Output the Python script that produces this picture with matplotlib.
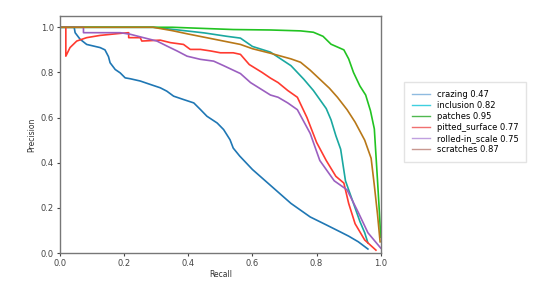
import matplotlib
matplotlib.use("Agg")
import matplotlib.pyplot as plt
from matplotlib.lines import Line2D

# PR curves per class
crazing_r = [0.0, 0.044, 0.047, 0.0625, 0.083, 0.104, 0.125, 0.14, 0.151, 0.156, 0.172, 0.1875, 0.203, 0.219,
             0.25, 0.281, 0.3125, 0.333, 0.354, 0.385, 0.417, 0.4375, 0.458, 0.49, 0.51, 0.53, 0.54, 0.56, 0.6,
             0.64, 0.68, 0.72, 0.78, 0.83, 0.875, 0.9, 0.93, 0.96]
crazing_p = [1.0, 1.0, 0.976, 0.947, 0.924, 0.917, 0.91, 0.90, 0.87, 0.843, 0.813, 0.798, 0.776, 0.772,
             0.762, 0.747, 0.732, 0.717, 0.695, 0.68, 0.665, 0.636, 0.606, 0.576, 0.547, 0.502, 0.465, 0.43, 0.37,
             0.32, 0.27, 0.22, 0.16, 0.125, 0.093, 0.075, 0.05, 0.018]

inclusion_r = [0.0, 0.29, 0.375, 0.45, 0.52, 0.5625, 0.6, 0.656, 0.72, 0.76, 0.79, 0.81, 0.83, 0.845, 0.86, 0.875,
               0.89, 0.905, 0.92, 0.935, 0.95, 0.96]
inclusion_p = [1.0, 1.0, 0.987, 0.975, 0.96, 0.952, 0.915, 0.89, 0.83, 0.77, 0.72, 0.68, 0.64, 0.59, 0.52, 0.46,
               0.32, 0.26, 0.2, 0.14, 0.09, 0.045]

patches_r = [0.0, 0.35, 0.54, 0.656, 0.75, 0.79, 0.82, 0.845, 0.885, 0.9, 0.915, 0.935, 0.953, 0.968, 0.98, 0.99,
             0.995, 1.0]
patches_p = [1.0, 1.0, 0.99, 0.988, 0.984, 0.978, 0.96, 0.925, 0.9, 0.86, 0.8, 0.74, 0.70, 0.63, 0.55, 0.32,
             0.2, 0.07]

pitted_r = [0.018, 0.018, 0.031, 0.052, 0.083, 0.125, 0.1875, 0.214, 0.214, 0.25, 0.255, 0.3125, 0.344, 0.385,
            0.406, 0.4375, 0.47, 0.5, 0.54, 0.5625, 0.59, 0.63, 0.656, 0.68, 0.71, 0.74, 0.77, 0.80, 0.83, 0.86,
            0.885, 0.90, 0.92, 0.95, 0.985]
pitted_p = [1.0, 0.872, 0.91, 0.939, 0.954, 0.964, 0.973, 0.976, 0.954, 0.954, 0.939, 0.943, 0.932, 0.924,
            0.902, 0.902, 0.895, 0.887, 0.887, 0.88, 0.835, 0.8, 0.775, 0.755, 0.72, 0.69, 0.6, 0.49, 0.41, 0.34,
            0.31, 0.22, 0.13, 0.058, 0.013]

rolled_r = [0.0, 0.073, 0.073, 0.1875, 0.219, 0.26, 0.302, 0.333, 0.365, 0.396, 0.4375, 0.479, 0.51, 0.54, 0.5625,
            0.594, 0.656, 0.68, 0.71, 0.74, 0.78, 0.81, 0.835, 0.855, 0.895, 0.93, 0.96, 1.0]
rolled_p = [1.0, 1.0, 0.976, 0.976, 0.969, 0.954, 0.939, 0.917, 0.895, 0.872, 0.858, 0.85, 0.83, 0.81, 0.795,
            0.755, 0.70, 0.69, 0.665, 0.635, 0.53, 0.41, 0.36, 0.32, 0.28, 0.18, 0.09, 0.022]

scratches_r = [0.0, 0.29, 0.35, 0.4, 0.5625, 0.6, 0.656, 0.72, 0.75, 0.78, 0.81, 0.84, 0.865, 0.895, 0.92, 0.95,
               0.97, 0.98, 0.99, 0.998]
scratches_p = [1.0, 1.0, 0.985, 0.97, 0.924, 0.905, 0.885, 0.86, 0.845, 0.81, 0.77, 0.73, 0.69, 0.635, 0.58, 0.5,
               0.42, 0.3, 0.17, 0.05]

names = ["crazing 0.47", "inclusion 0.82", "patches 0.95", "pitted_surface 0.77", "rolled-in_scale 0.75",
         "scratches 0.87"]
colors = ["#1f77b4", "#1aa8a0", "#22c322", "#ff3a30", "#9b5fc0", "#b87818"]
legend_colors = ["#8fbbe0", "#3fd0e0", "#50b850", "#f07070", "#c0a0e0", "#c89890"]

curves = [(crazing_r, crazing_p), (inclusion_r, inclusion_p), (patches_r, patches_p),
          (pitted_r, pitted_p), (rolled_r, rolled_p), (scratches_r, scratches_p)]
ticks = [0.0, 0.2, 0.4, 0.6, 0.8, 1.0]

fig = plt.figure(figsize=(5.51, 2.96), dpi=100)
ax = fig.add_axes([0.109, 0.145, 0.582, 0.801])

for (r, p), c in zip(curves, colors):
    ax.plot(r, p, color=c, linewidth=1.2)

ax.set_xlim(0, 1.0)
ax.set_ylim(0, 1.05)
ax.set_xticks(ticks)
ax.set_xticklabels([f"{t:.1f}" for t in ticks])
ax.set_yticks(ticks)
ax.set_yticklabels([f"{t:.1f}" for t in ticks])
ax.tick_params(labelsize=6, length=2.5, width=0.8, colors="#444444", pad=2)
ax.set_xlabel("Recall", fontsize=5.5, color="#333333", labelpad=1)
ax.set_ylabel("Precision", fontsize=5.5, color="#333333", labelpad=3)
for s in ax.spines.values():
    s.set_color("#777777")
    s.set_linewidth(1.0)

handles = [Line2D([], [], color=c, linewidth=1.0) for c in legend_colors]
fig.legend(handles, names, loc="upper left", bbox_to_anchor=(0.726, 0.736), fontsize=6,
           frameon=True, fancybox=False, edgecolor="#dddddd", handlelength=2.2, labelspacing=0.25,
           borderpad=0.9, handletextpad=0.8)

fig.savefig("out.png", dpi=100)
